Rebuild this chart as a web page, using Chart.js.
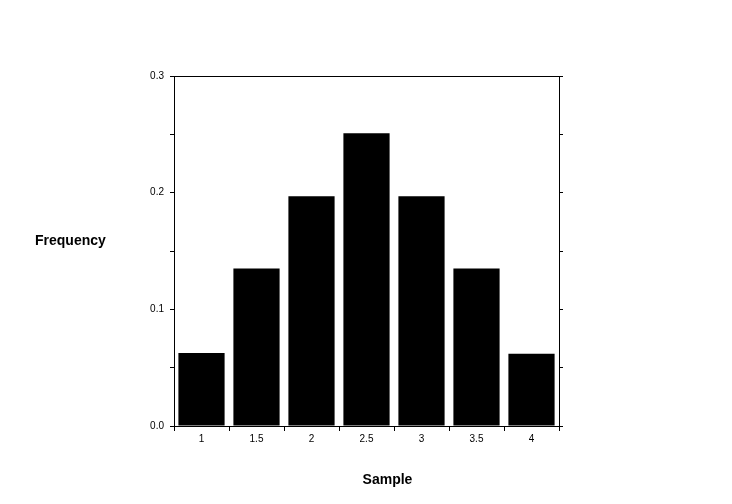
<!DOCTYPE html>
<html>
<head>
<meta charset="utf-8">
<script src="https://cdn.jsdelivr.net/npm/chart.js@4"></script>
<style>
  html, body { margin: 0; padding: 0; background: #fff; }
  #wrap { width: 732px; height: 504px; }
</style>
</head>
<body>
<div id="wrap"><canvas id="chart" width="732" height="504"></canvas></div>
<script>
// data
const samples = ['1', '1.5', '2', '2.5', '3', '3.5', '4'];
const frequency = [0.0625, 0.135, 0.197, 0.251, 0.197, 0.135, 0.062];
const yMin = 0;
const yMax = 0.3;
const yStep = 0.05;

const labelFont = { family: 'Liberation Sans, Arial, sans-serif', size: 10 };

// frame top line + horizontal axis titles
const extras = {
  id: 'extras',
  afterDraw(chart) {
    const { ctx, chartArea } = chart;
    ctx.save();
    ctx.strokeStyle = '#000';
    ctx.lineWidth = 1;
    ctx.beginPath();
    ctx.moveTo(chartArea.left - 4, chartArea.top + 0.5);
    ctx.lineTo(chartArea.right + 4, chartArea.top + 0.5);
    ctx.stroke();

    ctx.fillStyle = '#000';
    ctx.font = 'bold 14px "Liberation Sans", Arial, sans-serif';
    ctx.textBaseline = 'middle';
    ctx.textAlign = 'left';
    ctx.fillText('Frequency', 35, (chartArea.top + chartArea.bottom) / 2 - 10);
    ctx.textAlign = 'center';
    ctx.fillText('Sample', (chartArea.left + chartArea.right) / 2 + 21, 480);
    ctx.restore();
  }
};

new Chart(document.querySelector('#chart'), {
  type: 'bar',
  data: {
    labels: samples,
    datasets: [{
      label: 'Frequency',
      data: frequency,
      backgroundColor: '#000',
      borderWidth: 0,
      categoryPercentage: 1,
      barPercentage: 0.84,
    }],
  },
  options: {
    responsive: false,
    animation: false,
    layout: { padding: { top: 76, left: 0, right: 0, bottom: 0 } },
    plugins: { legend: { display: false }, tooltip: { enabled: false } },
    scales: {
      x: {
        type: 'category',
        offset: true,
        grid: { offset: true, drawOnChartArea: false, tickLength: 5, color: '#000' },
        border: { display: true, color: '#000' },
        ticks: { color: '#000', font: labelFont, padding: 2, maxRotation: 0 },
        afterFit(scale) { scale.height = 78; },
      },
      y: {
        min: yMin,
        max: yMax,
        position: 'left',
        grid: { drawOnChartArea: false, tickLength: 4, color: '#000' },
        border: { display: true, color: '#000' },
        ticks: {
          stepSize: yStep,
          color: '#000',
          font: labelFont,
          padding: 6,
          callback: (v) => (Math.round(v * 100) % 10 === 0 ? v.toFixed(1) : ''),
        },
        afterFit(scale) { scale.width = 174; },
      },
      y2: {
        min: yMin,
        max: yMax,
        position: 'right',
        grid: { drawOnChartArea: false, tickLength: 4, color: '#000' },
        border: { display: true, color: '#000' },
        ticks: { stepSize: yStep, display: false },
        afterFit(scale) { scale.width = 173; },
      },
    },
  },
  plugins: [extras],
});
</script>
</body>
</html>
